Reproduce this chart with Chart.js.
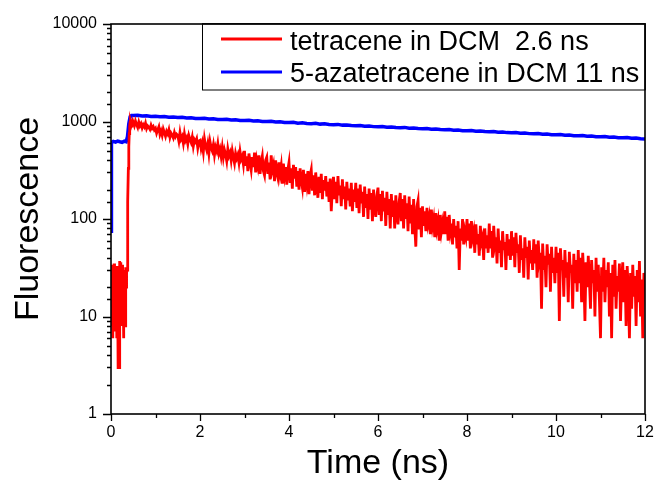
<!DOCTYPE html>
<html><head><meta charset="utf-8">
<script src="https://cdn.jsdelivr.net/npm/chart.js@4.4.0/dist/chart.umd.min.js"></script>
<style>html,body{margin:0;padding:0;background:#fff;overflow:hidden}canvas{display:block}</style>
</head><body>
<canvas id="c" width="656" height="481"></canvas>
<script>
const seriesLabels = ['tetracene in DCM  2.6 ns', '5-azatetracene in DCM 11 ns'];
const xTickLabels = ['0', '2', '4', '6', '8', '10', '12'];
const yTickLabels = ['1', '10', '100', '1000', '10000'];

// tetracene: pre-pulse background + rise, sampled every 0.01 ns from t = 0
const redEarlyStart = 0;
const redEarlyStep = 0.01;
const redEarly = [
  12, 34, 8, 30, 6, 28, 10, 35, 7, 22, 32, 9, 26, 6, 33, 15, 3, 4, 3, 30,
  37, 12, 36, 20, 8, 34, 14, 28, 6, 25, 10, 30, 8, 32, 20, 28,
  30, 60, 150, 330, 550, 750, 900, 980, 1000, 960, 1010, 940, 990, 930
];
// tetracene decay, sampled every 0.025 ns from t = 0.5
const redDecayStart = 0.5;
const redDecayStep = 0.025;
const redDecay = [
  980, 905, 1010, 930, 870, 985, 900, 950, 860, 925, 880, 960, 845, 900, 870, 830, 915, 850, 885, 820,
  850, 760, 820, 880, 740, 800, 720, 835, 770, 705, 790, 745, 820, 690, 760, 725, 680, 770, 700, 740,
  720, 630, 770, 660, 700, 600, 745, 640, 680, 590, 715, 655, 610, 690, 560, 650, 620, 665, 540, 630,
  640, 530, 600, 490, 660, 560, 510, 590, 470, 620, 540, 500, 575, 455, 545, 500, 590, 470, 520, 440,
  540, 430, 510, 460, 395, 520, 445, 480, 400, 500, 430, 375, 470, 420, 455, 380, 490, 410, 440, 365,
  500, 350, 440, 310, 470, 380, 320, 430, 340, 480, 300, 400, 345, 450, 290, 380, 440, 310, 280, 400,
  430, 290, 380, 255, 450, 320, 360, 245, 400, 300, 265, 380, 290, 350, 230, 370, 280, 340, 225, 320,
  380, 235, 330, 205, 360, 260, 340, 215, 310, 200, 330, 250, 210, 320, 190, 290, 230, 310, 180, 280,
  320, 195, 280, 175, 300, 215, 165, 270, 185, 290, 160, 250, 195, 275, 170, 240, 150, 260, 120, 215,
  270, 160, 240, 145, 275, 175, 220, 135, 255, 160, 215, 125, 240, 155, 205, 135, 235, 120, 200, 150,
  235, 130, 205, 115, 225, 145, 190, 105, 215, 130, 180, 100, 205, 125, 185, 95, 200, 130, 105, 175,
  210, 110, 180, 95, 195, 120, 165, 85, 190, 110, 160, 80, 180, 105, 155, 80, 175, 110, 88, 150,
  185, 95, 160, 80, 175, 100, 145, 75, 170, 90, 140, 70, 160, 85, 52, 135, 155, 78, 130, 65,
  135, 85, 120, 75, 130, 90, 105, 70, 125, 85, 100, 65, 115, 80, 95, 60, 110, 75, 90, 70,
  120, 70, 105, 60, 110, 75, 90, 55, 100, 65, 85, 50, 95, 30, 80, 60, 100, 55, 75, 65,
  100, 60, 90, 50, 95, 65, 75, 45, 88, 55, 70, 42, 85, 58, 65, 38, 80, 50, 68, 45,
  90, 50, 75, 40, 85, 55, 65, 35, 80, 45, 60, 32, 75, 48, 58, 30, 70, 42, 62, 38,
  75, 42, 65, 32, 72, 45, 55, 28, 68, 38, 50, 25, 65, 40, 52, 24, 60, 35, 48, 30,
  62, 35, 55, 25, 60, 38, 45, 12, 56, 30, 42, 20, 55, 34, 44, 18, 52, 28, 40, 22,
  52, 28, 45, 9, 50, 30, 38, 16, 48, 25, 36, 14, 46, 28, 34, 12, 44, 22, 38, 18,
  48, 22, 40, 14, 45, 26, 9, 36, 20, 42, 24, 12, 38, 22, 30, 10, 40, 18, 34, 15,
  6, 32, 18, 40, 14, 30, 20, 36, 10, 28, 6, 34, 16, 38, 12, 26, 18, 35, 9, 24,
  36, 14, 30, 8, 33, 18, 6, 28, 12, 34, 16, 26, 8, 30, 14, 37, 10, 24, 6, 28,
  20
];

// 5-azatetracene
const blueEarlyTimes = [0, 0.01, 0.05, 0.10, 0.15, 0.20, 0.25, 0.30, 0.34, 0.37, 0.40, 0.43, 0.46];
const blueEarly = [75, 610, 625, 615, 630, 620, 612, 628, 620, 700, 950, 1120, 1150];
const blueDecayStart = 0.5;
const blueDecayStep = 0.1;
const blueDecay = [
  1150, 1158, 1140, 1146, 1127, 1130, 1118, 1125, 1105, 1112,
  1098, 1104, 1085, 1092, 1075, 1072, 1080, 1060, 1066, 1050,
  1048, 1054, 1036, 1041, 1025, 1022, 1030, 1010, 1016, 1001,
  998, 1004, 988, 992, 976, 974, 980, 962, 968, 953,
  951, 957, 940, 946, 930, 928, 934, 918, 922, 908,
  906, 912, 896, 900, 886, 885, 890, 875, 879, 866,
  864, 870, 854, 858, 846, 843, 849, 834, 838, 826,
  823, 829, 815, 818, 806, 804, 810, 795, 799, 788,
  785, 791, 777, 780, 769, 766, 772, 758, 762, 751,
  748, 754, 740, 744, 733, 731, 736, 722, 727, 716,
  713, 719, 706, 709, 699, 696, 702, 689, 692, 682,
  680, 685, 672, 676, 665, 662
];

function sampled(start, step, values) {
  return values.map((v, i) => ({x: +(start + i * step).toFixed(4), y: v}));
}
const redPoints = sampled(redEarlyStart, redEarlyStep, redEarly).concat(sampled(redDecayStart, redDecayStep, redDecay));
const bluePoints = blueEarlyTimes.map((t, i) => ({x: t, y: blueEarly[i]})).concat(sampled(blueDecayStart, blueDecayStep, blueDecay));

const FONT = "'Liberation Sans', Arial, Helvetica, sans-serif";

const framePlugin = {
  id: 'frameAndLegend',
  afterDraw(chart) {
    const {ctx, chartArea: a, scales: {x, y}} = chart;
    ctx.save();
    ctx.strokeStyle = '#000';
    ctx.lineWidth = 1.3;
    ctx.beginPath();
    y.ticks.forEach(t => {
      const lg = Math.log10(t.value);
      const major = Math.abs(lg - Math.round(lg)) < 1e-9;
      const p = Math.round(y.getPixelForValue(t.value)) + 0.5;
      const len = major ? 8 : 4;
      ctx.moveTo(a.left - len, p); ctx.lineTo(a.left, p);
    });
    x.ticks.forEach(t => {
      const major = Math.round(t.value) % 2 === 0;
      const p = Math.round(x.getPixelForValue(t.value)) + 0.5;
      const len = major ? 7 : 4;
      ctx.moveTo(p, a.bottom); ctx.lineTo(p, a.bottom + len);
    });
    ctx.stroke();
    ctx.lineWidth = 1.6;
    ctx.strokeRect(a.left, a.top, a.right - a.left, a.bottom - a.top);

    // legend
    const bx = 202, by = a.top, bw = a.right - 202, bh = 66;
    ctx.fillStyle = '#fff';
    ctx.fillRect(bx, by, bw, bh);
    ctx.lineWidth = 1;
    ctx.strokeRect(bx + 0.5, by, bw - 0.5, bh);
    ctx.lineWidth = 1.6;
    ctx.beginPath(); ctx.moveTo(bx, by); ctx.lineTo(a.right, by); ctx.lineTo(a.right, by + bh); ctx.stroke();
    const rows = [{line: 39, base: 49.5}, {line: 72, base: 82}];
    chart.data.datasets.forEach((ds, i) => {
      ctx.strokeStyle = ds.borderColor;
      ctx.lineWidth = 3;
      ctx.beginPath();
      ctx.moveTo(221, rows[i].line); ctx.lineTo(282, rows[i].line);
      ctx.stroke();
      ctx.fillStyle = '#000';
      ctx.font = '27px ' + FONT;
      ctx.textBaseline = 'alphabetic';
      ctx.textAlign = 'left';
      ctx.fillText(ds.label, 290, rows[i].base);
    });
    ctx.restore();
  }
};

new Chart(document.getElementById('c'), {
  type: 'line',
  data: {
    datasets: [
      {label: seriesLabels[0], data: redPoints,
       borderColor: '#ff0000', borderWidth: 2.8, pointRadius: 0, tension: 0, fill: false},
      {label: seriesLabels[1], data: bluePoints,
       borderColor: '#0000ff', borderWidth: 3.5, pointRadius: 0, tension: 0, fill: false}
    ]
  },
  options: {
    responsive: false,
    animation: false,
    layout: {padding: {left: 0, right: 11, top: 24, bottom: 0}},
    plugins: {legend: {display: false}, tooltip: {enabled: false}},
    scales: {
      x: {
        type: 'linear', min: 0, max: 12,
        afterFit(s) { s.height = 67; s.paddingLeft = 0; s.paddingRight = 0; },
        grid: {display: false, drawTicks: false},
        border: {display: false},
        ticks: {stepSize: 1, autoSkip: false, maxRotation: 0, padding: 9, color: '#000',
          font: {family: FONT, size: 16},
          callback(v) { return xTickLabels.includes(String(v)) ? String(v) : ''; }},
        title: {display: true, text: 'Time (ns)', color: '#000', font: {family: FONT, size: 34, lineHeight: 1}, padding: {top: 0, bottom: 0}}
      },
      y: {
        type: 'logarithmic', min: 1, max: 10000,
        afterFit(s) { s.width = 111; s.paddingTop = 0; s.paddingBottom = 0; },
        grid: {display: false, drawTicks: false},
        border: {display: false},
        ticks: {autoSkip: false, padding: 14, color: '#000', font: {family: FONT, size: 16},
          callback(v) { return yTickLabels.includes(String(v)) ? String(v) : ''; }},
        title: {display: true, text: 'Fluorescence', color: '#000', font: {family: FONT, size: 34, lineHeight: 1}, padding: {top: 12, bottom: 0}}
      }
    }
  },
  plugins: [framePlugin]
});
</script>
</body></html>
